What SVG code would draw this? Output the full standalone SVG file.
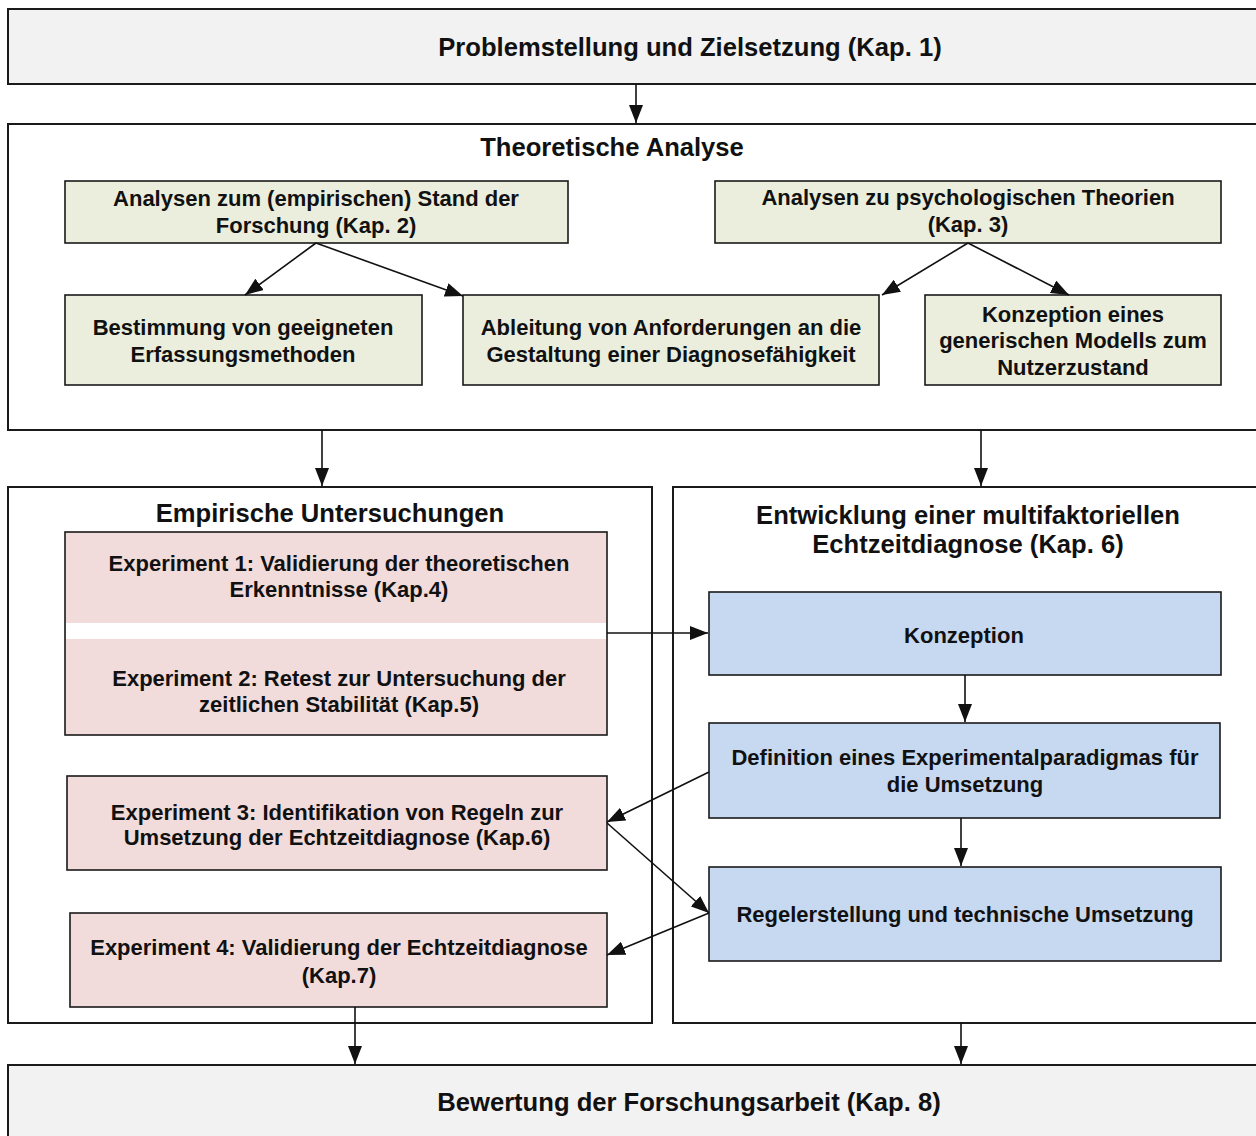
<svg xmlns="http://www.w3.org/2000/svg" width="1256" height="1136" viewBox="0 0 1256 1136">
  <style>
    text { font-family: "Liberation Sans", Arial, sans-serif; font-weight: bold; fill: #111; text-anchor: middle; }
    .head { font-size: 25.6px; }
    .lbl { font-size: 22px; }
    .frame { fill: #ffffff; stroke: #1a1a1a; stroke-width: 2; }
    .grey { fill: #f2f2f2; stroke: #1a1a1a; stroke-width: 2; }
    .green { fill: #ebeedd; stroke: #1a1a1a; stroke-width: 1.6; }
    .pink { fill: #f2dcdb; stroke: #1a1a1a; stroke-width: 1.6; }
    .blue { fill: #c6d9f1; stroke: #1a1a1a; stroke-width: 1.6; }
    .conn { fill: none; stroke: #111; stroke-width: 1.6; marker-end: url(#arrow); }
  </style>
  <defs>
    <marker id="arrow" viewBox="0 0 18 14" refX="18" refY="7" markerWidth="18" markerHeight="14" markerUnits="userSpaceOnUse" orient="auto">
      <path d="M0,0 L18,7 L0,14 z" fill="#111"/>
    </marker>
  </defs>

  <!-- container frames -->
  <g id="problem">
    <rect class="grey" x="8" y="9" width="1260" height="75"/>
    <text class="head" x="690" y="56">Problemstellung und Zielsetzung (Kap. 1)</text>
  </g>

  <g id="theorie">
    <rect class="frame" x="8" y="124" width="1260" height="306"/>
    <text class="head" x="612" y="156">Theoretische Analyse</text>
  </g>

  <g id="empirie">
    <rect class="frame" x="8" y="487" width="644" height="536"/>
    <text class="head" x="330" y="522">Empirische Untersuchungen</text>
  </g>

  <g id="entwicklung">
    <rect class="frame" x="673" y="487" width="600" height="536"/>
    <text class="head" x="968" y="524">Entwicklung einer multifaktoriellen</text>
    <text class="head" x="968" y="553">Echtzeitdiagnose (Kap. 6)</text>
  </g>

  <g id="bewertung">
    <rect class="grey" x="8" y="1065" width="1260" height="90"/>
    <text class="head" x="689" y="1111">Bewertung der Forschungsarbeit (Kap. 8)</text>
  </g>

  <!-- theory nodes -->
  <g id="stand">
    <rect class="green" x="65" y="181" width="503" height="62"/>
    <text class="lbl" x="316" y="206">Analysen zum (empirischen) Stand der</text>
    <text class="lbl" x="316" y="233">Forschung (Kap. 2)</text>
  </g>

  <g id="psychologie">
    <rect class="green" x="715" y="181" width="506" height="62"/>
    <text class="lbl" x="968" y="205">Analysen zu psychologischen Theorien</text>
    <text class="lbl" x="968" y="232">(Kap. 3)</text>
  </g>

  <g id="methoden">
    <rect class="green" x="65" y="295" width="357" height="90"/>
    <text class="lbl" x="243" y="335">Bestimmung von geeigneten</text>
    <text class="lbl" x="243" y="362">Erfassungsmethoden</text>
  </g>

  <g id="anforderungen">
    <rect class="green" x="463" y="295" width="416" height="90"/>
    <text class="lbl" x="671" y="335">Ableitung von Anforderungen an die</text>
    <text class="lbl" x="671" y="362">Gestaltung einer Diagnosefähigkeit</text>
  </g>

  <g id="modell">
    <rect class="green" x="925" y="295" width="296" height="90"/>
    <text class="lbl" x="1073" y="322">Konzeption eines</text>
    <text class="lbl" x="1073" y="348">generischen Modells zum</text>
    <text class="lbl" x="1073" y="375">Nutzerzustand</text>
  </g>

  <!-- experiment nodes -->
  <g id="experiment12">
    <rect class="pink" x="65" y="532" width="542" height="203"/>
    <rect x="66" y="623" width="540" height="16" fill="#ffffff"/>
    <text class="lbl" x="339" y="571">Experiment 1: Validierung der theoretischen</text>
    <text class="lbl" x="339" y="597">Erkenntnisse (Kap.4)</text>
    <text class="lbl" x="339" y="686">Experiment 2: Retest zur Untersuchung der</text>
    <text class="lbl" x="339" y="712">zeitlichen Stabilität (Kap.5)</text>
  </g>

  <g id="experiment3">
    <rect class="pink" x="67" y="776" width="540" height="94"/>
    <text class="lbl" x="337" y="820">Experiment 3: Identifikation von Regeln zur</text>
    <text class="lbl" x="337" y="845">Umsetzung der Echtzeitdiagnose (Kap.6)</text>
  </g>

  <g id="experiment4">
    <rect class="pink" x="70" y="913" width="537" height="94"/>
    <text class="lbl" x="339" y="955">Experiment 4: Validierung der Echtzeitdiagnose</text>
    <text class="lbl" x="339" y="983">(Kap.7)</text>
  </g>

  <!-- development nodes -->
  <g id="konzeption">
    <rect class="blue" x="709" y="592" width="512" height="83"/>
    <text class="lbl" x="964" y="643">Konzeption</text>
  </g>

  <g id="paradigma">
    <rect class="blue" x="709" y="723" width="511" height="95"/>
    <text class="lbl" x="965" y="765">Definition eines Experimentalparadigmas für</text>
    <text class="lbl" x="965" y="792">die Umsetzung</text>
  </g>

  <g id="regeln">
    <rect class="blue" x="709" y="867" width="512" height="94"/>
    <text class="lbl" x="965" y="922">Regelerstellung und technische Umsetzung</text>
  </g>

  <!-- connectors -->
  <g id="connectors">
    <line class="conn" x1="636" y1="84" x2="636" y2="123"/>
    <line class="conn" x1="316" y1="243" x2="245" y2="295"/>
    <line class="conn" x1="316" y1="243" x2="463" y2="296"/>
    <line class="conn" x1="968" y1="243" x2="882" y2="295"/>
    <line class="conn" x1="968" y1="243" x2="1069" y2="295"/>
    <line class="conn" x1="322" y1="430" x2="322" y2="486"/>
    <line class="conn" x1="981" y1="430" x2="981" y2="486"/>
    <line class="conn" x1="607" y1="633" x2="708" y2="633"/>
    <line class="conn" x1="965" y1="675" x2="965" y2="722"/>
    <line class="conn" x1="961" y1="818" x2="961" y2="866"/>
    <line class="conn" x1="709" y1="772" x2="607" y2="822"/>
    <line class="conn" x1="607" y1="823" x2="709" y2="913"/>
    <line class="conn" x1="709" y1="913" x2="607" y2="955"/>
    <line class="conn" x1="355" y1="1007" x2="355" y2="1064"/>
    <line class="conn" x1="961" y1="1023" x2="961" y2="1064"/>
  </g>
</svg>
